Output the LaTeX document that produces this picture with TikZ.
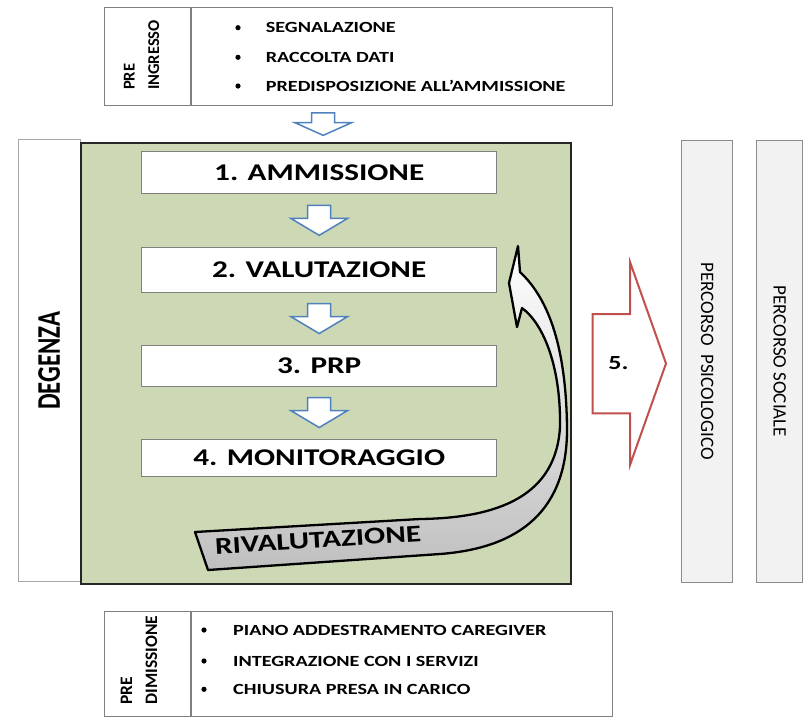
\documentclass[tikz,border=0pt]{standalone}
\usepackage{fontspec}
\setmainfont{Carlito}
\newfontfamily\widefont{Carlito}[FakeStretch=1.3]
\newfontfamily\narrowfont{Carlito}[FakeStretch=0.75]
\usetikzlibrary{calc}
\definecolor{degreen}{RGB}{205,216,181}
\definecolor{arrblue}{RGB}{79,129,189}
\definecolor{arrred}{RGB}{192,80,77}
\definecolor{bargray}{RGB}{242,242,242}
\tikzset{
  listbox/.style={draw=black!50, line width=1.2pt, minimum width=508pt, inner sep=0pt, anchor=north west},
  listitem/.style={anchor=west, inner sep=0pt, font=\widefont\bfseries\fontsize{15.5}{18}\selectfont},
  prelabel/.style={rotate=90, align=left, inner sep=0pt},
  stepbox/.style={draw=black!50, line width=1pt, fill=white, minimum width=355pt, inner sep=0pt, font=\widefont\bfseries\fontsize{24}{28}\selectfont},
  pathbar/.style={draw=black!45, line width=1.4pt, fill=bargray, rotate=-90, minimum width=442pt, inner sep=0pt, font=\fontsize{19}{22}\selectfont},
  blockarr/.style={draw=arrblue, line width=1.5pt, fill=white, line join=miter},
  downarr/.pic={\draw[blockarr] (-11.5,15) -- (11.5,15) -- (11.5,2) -- (28.5,2) -- (0,-15) -- (-28.5,2) -- (-11.5,2) -- cycle;}
}
\begin{document}
\begin{tikzpicture}[x=1pt,y=1pt,yscale=-1]
\useasboundingbox (0,0) rectangle (808,721);
%Box: pre ingresso
\node[listbox, minimum height=98pt] (pre) at (104,7) {};
\draw[draw=black!50, line width=1.2pt] ([xshift=87pt]pre.north west) -- ([xshift=87pt]pre.south west);
\node[prelabel, font=\bfseries\fontsize{16.5}{24.5}\selectfont] (pretxt) at (141.5,55) {PRE\\INGRESSO};
\fill (238,27.7) circle (2.6);
\fill (238,57.3) circle (2.6);
\fill (238,86) circle (2.6);
\node[listitem] (seg) at (265.7,27.7) {SEGNALAZIONE};
\node[listitem] (racc) at (265.7,57.3) {RACCOLTA DATI};
\node[listitem] (pred) at (265.7,86) {PREDISPOSIZIONE ALL’AMMISSIONE};
%Box: degenza
\node[draw=black!35, line width=1pt, fill=white, rotate=90, minimum width=441.5pt, minimum height=61.7pt, inner sep=0pt, font=\narrowfont\bfseries\fontsize{33}{36}\selectfont] (degbox) at (49.2,360.7) {DEGENZA};
\node[draw=black!85, line width=2pt, fill=degreen, minimum width=490pt, minimum height=440.5pt, anchor=north west, inner sep=0pt] (deg) at (80,142) {};
%Steps
\node[stepbox, minimum height=41.6pt] (s1) at (319.2,172.5) {1. AMMISSIONE};
\node[stepbox, minimum height=44.7pt] (s2) at (319.2,269.7) {2. VALUTAZIONE};
\node[stepbox, minimum height=41pt] (s3) at (319.2,365.5) {3. PRP};
\node[stepbox, minimum height=37pt] (s4) at (319.2,457.5) {4. MONITORAGGIO};
\pic[yscale=0.75] at ([xshift=4pt]$(s1.north |- pre.south)!0.5!(s1.north |- deg.north)$) {downarr};
\pic at ($(s1.south)!0.5!(s2.north)$) {downarr};
\pic at ($(s2.south)!0.5!(s3.north)$) {downarr};
\pic at ($(s3.south)!0.5!(s4.north)$) {downarr};
%Curved arrow: rivalutazione
\draw[line width=2.3pt, line join=round, top color=white, bottom color=black!25] (195,532) -- (420,519) .. controls (500,518) and (556,495) .. (560,427) .. controls (561,370) and (545,325) .. (522,308) -- (517,327) -- (509,283) -- (518,246) -- (520,272) .. controls (550,300) and (566,350) .. (567,427) .. controls (568,510) and (520,548) .. (440,554) -- (208,570) -- cycle;
\node[rotate=3.6, inner sep=0pt, font=\widefont\bfseries\fontsize{24}{28}\selectfont] (riv) at (318,540) {RIVALUTAZIONE};
%Arrow 5
\draw[draw=arrred, line width=2pt, fill=white] (592.7,314) -- (630,314) -- (630,262) -- (666,363.5) -- (630,465) -- (630,413.3) -- (592.7,413.3) -- cycle;
\node[inner sep=0pt, font=\widefont\bfseries\fontsize{20}{24}\selectfont] (five) at (618.5,363.5) {5.};
%Bars
\node[pathbar, minimum height=51pt] (psico) at (707.2,361.2) {PERCORSO\ \ PSICOLOGICO};
\node[pathbar, minimum height=46pt] (soc) at (779.7,361.2) {PERCORSO SOCIALE};
%Box: pre dimissione
\node[listbox, minimum height=105.3pt] (dim) at (104,610.7) {};
\draw[draw=black!50, line width=1.2pt] ([xshift=87pt]dim.north west) -- ([xshift=87pt]dim.south west);
\node[prelabel, font=\bfseries\fontsize{17.5}{25}\selectfont] (dimtxt) at (139,660) {PRE\\DIMISSIONE};
\fill (204,630) circle (2.6);
\fill (204,661) circle (2.6);
\fill (204,689.3) circle (2.6);
\node[listitem] (piano) at (233,630) {PIANO ADDESTRAMENTO CAREGIVER};
\node[listitem] (integ) at (233,661) {INTEGRAZIONE CON I SERVIZI};
\node[listitem] (chius) at (233,689.3) {CHIUSURA PRESA IN CARICO};
\end{tikzpicture}
\end{document}
